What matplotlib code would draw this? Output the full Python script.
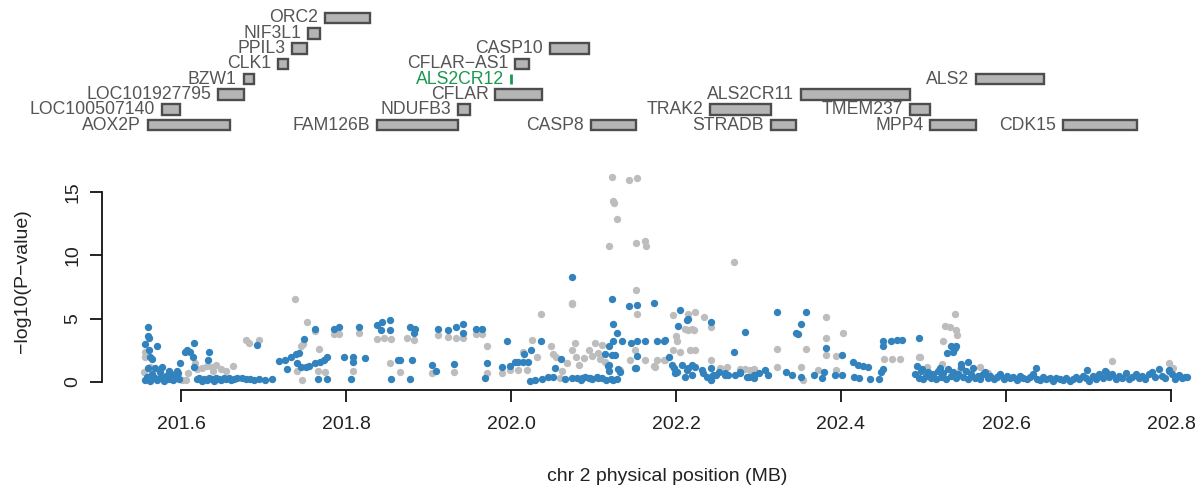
import numpy as np
import matplotlib
matplotlib.use("Agg")
import matplotlib.pyplot as plt
from matplotlib.patches import Rectangle

plt.rcParams['font.family'] = ['Liberation Sans', 'DejaVu Sans']

# ---------------- gene track ----------------
gene_names = ["AOX2P", "LOC100507140", "LOC101927795", "BZW1", "CLK1", "PPIL3", "NIF3L1", "ORC2",
              "FAM126B", "NDUFB3", "CFLAR", "ALS2CR12", "CFLAR\u2212AS1", "CASP10", "CASP8",
              "TRAK2", "STRADB", "ALS2CR11", "TMEM237", "MPP4", "ALS2", "CDK15"]
gene_start = [201.560, 201.577, 201.645, 201.676, 201.718, 201.735, 201.754, 201.775,
              201.838, 201.936, 201.981, 202.000, 202.005, 202.047, 202.097,
              202.241, 202.315, 202.352, 202.484, 202.508, 202.564, 202.669]
gene_end = [201.659, 201.599, 201.676, 201.688, 201.730, 201.753, 201.768, 201.829,
            201.936, 201.950, 202.038, 202.000, 202.022, 202.095, 202.152,
            202.315, 202.345, 202.484, 202.508, 202.564, 202.646, 202.759]
gene_row = [0, 1, 2, 3, 4, 5, 6, 7,
            0, 1, 2, 3, 4, 5, 0,
            1, 0, 2, 1, 0, 3, 0]
highlight_gene = "ALS2CR12"

# ---------------- association results ----------------
blue_snps = [
    (201.560, 4.3), (201.560, 3.6), (201.561, 3.45), (201.556, 3.0), (201.571, 2.8), (201.561, 2.5),
    (201.563, 2.0), (201.565, 1.8), (201.560, 1.1), (201.568, 1.1), (201.577, 1.2), (201.585, 0.9),
    (201.595, 0.9), (201.599, 1.5), (201.605, 2.4), (201.607, 2.5), (201.611, 2.4), (201.616, 3.05),
    (201.615, 2.0), (201.616, 1.2), (201.634, 2.4), (201.633, 1.7), (201.692, 2.9), (201.719, 1.65),
    (201.726, 1.7), (201.729, 1.0), (201.733, 1.95), (201.739, 2.2), (201.743, 2.25), (201.740, 1.5),
    (201.746, 1.2), (201.751, 1.15), (201.755, 1.25), (201.749, 3.4), (201.762, 4.2), (201.763, 1.5),
    (201.769, 1.6), (201.773, 1.7), (201.777, 1.95), (201.766, 0.25), (201.777, 0.2), (201.785, 4.2),
    (201.792, 4.35), (201.798, 2.0), (201.809, 2.0), (201.809, 1.6), (201.806, 0.25), (201.816, 4.3),
    (201.823, 1.9), (201.837, 4.5), (201.844, 4.75), (201.853, 4.9), (201.843, 4.1), (201.853, 4.1),
    (201.855, 0.2), (201.863, 1.7),
    (201.556, 0.15), (201.559, 0.4), (201.562, 0.1), (201.565, 0.6), (201.568, 0.3), (201.571, 0.15),
    (201.574, 0.8), (201.576, 0.4), (201.579, 0.1), (201.582, 0.5), (201.585, 0.25), (201.588, 0.6),
    (201.590, 0.15), (201.593, 0.4), (201.596, 0.7), (201.598, 0.2),
    (201.619, 0.2), (201.622, 0.3), (201.625, 0.1), (201.628, 0.25), (201.631, 0.15), (201.634, 0.3),
    (201.637, 0.2), (201.640, 0.1), (201.643, 0.3), (201.646, 0.2), (201.649, 0.15), (201.652, 0.3),
    (201.655, 0.2), (201.658, 0.35), (201.661, 0.15), (201.664, 0.25), (201.668, 0.3),
    (201.674, 0.3), (201.679, 0.2), (201.684, 0.25), (201.689, 0.15), (201.695, 0.2), (201.702, 0.15),
    (201.710, 0.2),
    (201.866, 1.7), (201.878, 4.35), (201.884, 4.2), (201.882, 3.9), (201.880, 1.7), (201.878, 0.25),
    (201.904, 1.35), (201.909, 0.9), (201.911, 4.15), (201.924, 4.1), (201.931, 1.4), (201.933, 4.35),
    (201.942, 4.55), (201.942, 3.9), (201.958, 4.15), (201.965, 4.2), (201.971, 1.5), (201.968, 0.35),
    (201.989, 1.2), (201.995, 3.2), (201.999, 1.25), (202.005, 1.6), (202.009, 1.6), (202.015, 1.6),
    (202.021, 1.6), (202.016, 2.2), (202.024, 2.5), (202.036, 3.2), (202.023, 0.1), (202.029, 0.15),
    (202.045, 0.4), (202.051, 0.4), (202.053, 1.1), (202.061, 1.8), (202.074, 0.3), (202.080, 0.3),
    (202.090, 0.4), (202.098, 0.2), (202.104, 0.4), (202.110, 0.3), (202.121, 0.2), (202.128, 0.2),
    (202.114, 2.2), (202.119, 2.8), (202.122, 2.1), (202.126, 2.1), (202.124, 4.55), (202.128, 3.85),
    (202.124, 3.25), (202.134, 3.2), (202.118, 1.25), (202.119, 0.9), (202.130, 1.0), (202.122, 6.55),
    (202.143, 6.0), (202.153, 6.1), (202.173, 6.2), (202.145, 3.1), (202.153, 3.2), (202.162, 3.2),
    (202.153, 2.05), (202.152, 1.1), (202.177, 3.25), (202.185, 3.25), (202.192, 1.95),
    (202.038, 0.2), (202.066, 0.2), (202.085, 0.15), (202.094, 0.3), (202.115, 0.15), (202.124, 0.15),
    (202.119, 1.35), (202.132, 0.8), (202.150, 1.1), (202.074, 8.25), (202.086, 0.3), (202.096, 0.3),
    (202.106, 0.3),
    (202.205, 5.7), (202.213, 4.9), (202.214, 5.0), (202.203, 4.4), (202.242, 4.75), (202.284, 3.95),
    (202.270, 2.35), (202.187, 3.3), (202.195, 1.35), (202.201, 0.8), (202.207, 1.35), (202.213, 0.95),
    (202.219, 1.35), (202.223, 1.2), (202.219, 0.55), (202.233, 0.7), (202.243, 1.1), (202.243, 0.15),
    (202.249, 0.55), (202.259, 0.7), (202.263, 0.55), (202.278, 0.7), (202.286, 0.4), (202.294, 0.55),
    (202.197, 1.1), (202.199, 0.7), (202.211, 0.4), (202.215, 1.1), (202.231, 0.95), (202.237, 0.4),
    (202.245, 0.55), (202.252, 0.8), (202.260, 0.55), (202.272, 0.55), (202.278, 0.8), (202.288, 0.4),
    (202.294, 0.3), (202.300, 0.7), (202.308, 0.95), (202.312, 0.55), (202.322, 5.55), (202.333, 0.8),
    (202.341, 0.55), (202.351, 0.4), (202.358, 5.5), (202.352, 4.6), (202.346, 3.85), (202.348, 3.8),
    (202.367, 0.55), (202.377, 0.3), (202.382, 2.65), (202.379, 0.8), (202.393, 0.55), (202.401, 2.1),
    (202.401, 0.55), (202.415, 1.6), (202.416, 0.4), (202.421, 1.35), (202.422, 0.3), (202.427, 1.25),
    (202.433, 1.2), (202.435, 0.2), (202.446, 0.2), (202.449, 0.8), (202.451, 3.2), (202.451, 2.85),
    (202.451, 1.0), (202.461, 3.2), (202.468, 3.3), (202.474, 3.35), (202.495, 3.45), (202.492, 1.25),
    (202.498, 1.0),
    (202.528, 2.25), (202.533, 2.85), (202.538, 2.65), (202.540, 2.8), (202.536, 2.4), (202.554, 1.6),
    (202.546, 1.4), (202.520, 1.1), (202.636, 1.1), (202.698, 0.95), (202.720, 0.9), (202.797, 0.95),
    (202.810, 0.55), (202.819, 0.4),
    (202.490, 0.6), (202.494, 0.3), (202.497, 0.9), (202.500, 0.2), (202.503, 0.5), (202.506, 0.8),
    (202.509, 0.3), (202.512, 0.6), (202.515, 0.2), (202.518, 0.9), (202.521, 0.4), (202.524, 0.7),
    (202.527, 0.2), (202.530, 1.0), (202.533, 0.5), (202.536, 0.8), (202.539, 0.3), (202.542, 0.6),
    (202.545, 1.2), (202.548, 0.4), (202.551, 0.9), (202.554, 0.2), (202.557, 0.6), (202.560, 1.1),
    (202.563, 0.3), (202.566, 0.5), (202.569, 0.2), (202.572, 0.6), (202.575, 0.8), (202.578, 0.3),
    (202.581, 0.5), (202.585, 0.2), (202.589, 0.4), (202.593, 0.6), (202.597, 0.2), (202.601, 0.5),
    (202.605, 0.3), (202.609, 0.4), (202.613, 0.15), (202.617, 0.5), (202.621, 0.3), (202.625, 0.2),
    (202.629, 0.4), (202.633, 0.6), (202.637, 0.25), (202.641, 0.15), (202.645, 0.4), (202.649, 0.2),
    (202.653, 0.3), (202.657, 0.1), (202.661, 0.35), (202.665, 0.2), (202.669, 0.15), (202.673, 0.3),
    (202.677, 0.1), (202.681, 0.25), (202.685, 0.4), (202.689, 0.2), (202.693, 0.5), (202.697, 0.3),
    (202.701, 0.1), (202.705, 0.45), (202.709, 0.2), (202.713, 0.6), (202.717, 0.3), (202.721, 0.8),
    (202.725, 0.4), (202.729, 0.6), (202.733, 0.2), (202.737, 0.5), (202.741, 0.3), (202.745, 0.7),
    (202.749, 0.2), (202.753, 0.4), (202.757, 0.6), (202.761, 0.3), (202.765, 0.5), (202.769, 0.2),
    (202.773, 0.6), (202.777, 0.8), (202.781, 0.4), (202.785, 1.0), (202.789, 0.5), (202.793, 0.3),
    (202.797, 0.9), (202.801, 0.6), (202.805, 0.2), (202.809, 0.5), (202.813, 0.3), (202.817, 0.4),
]

gray_snps = [
    (201.738, 6.55), (201.753, 4.7), (201.762, 4.05), (201.748, 3.0), (201.745, 2.8), (201.767, 2.6),
    (201.679, 3.3), (201.683, 3.1), (201.695, 3.3), (201.556, 2.0), (201.556, 2.4), (201.562, 1.2),
    (201.609, 0.7), (201.617, 1.5), (201.625, 1.1), (201.631, 1.25), (201.637, 1.2), (201.643, 1.35),
    (201.639, 0.9), (201.663, 1.25), (201.741, 0.9), (201.747, 0.15), (201.766, 0.9), (201.775, 0.8),
    (201.785, 3.8), (201.792, 3.8), (201.816, 3.85), (201.809, 0.9), (201.837, 3.4), (201.846, 3.5),
    (201.855, 3.4), (201.853, 1.5), (201.601, 0.15), (201.606, 0.15), (201.555, 0.8), (201.648, 1.0),
    (201.655, 0.9), (201.620, 1.0),
    (201.874, 3.45), (201.882, 3.3), (201.911, 3.7), (201.924, 3.55), (201.933, 3.45), (201.942, 3.5),
    (201.958, 3.8), (201.965, 3.8), (201.866, 0.75), (201.904, 0.7), (201.931, 0.75), (201.971, 2.8),
    (201.971, 0.7), (201.989, 0.7), (201.999, 0.95), (202.009, 0.95), (202.019, 0.95), (202.074, 6.15),
    (202.036, 5.35), (202.025, 3.3), (202.015, 2.4), (202.032, 1.95), (202.048, 2.85), (202.051, 2.2),
    (202.055, 1.95), (202.074, 2.5), (202.078, 3.05), (202.079, 2.0), (202.094, 2.5), (202.102, 3.05),
    (202.110, 2.9), (202.098, 2.05), (202.106, 2.3), (202.108, 1.85), (202.059, 0.35), (202.152, 7.25),
    (202.153, 5.35), (202.132, 0.95), (202.144, 1.75), (202.150, 2.5), (202.162, 1.75), (202.173, 1.25),
    (202.177, 1.7), (202.185, 1.7), (202.062, 0.9), (202.068, 1.5), (202.088, 1.9), (202.082, 1.3),
    (202.114, 1.6),
    (202.122, 16.15), (202.143, 15.95), (202.153, 16.1), (202.124, 14.3), (202.125, 14.1),
    (202.128, 12.85), (202.119, 10.75), (202.152, 11.0), (202.162, 11.1), (202.164, 10.75),
    (202.270, 9.5), (202.074, 6.2),
    (202.196, 5.3), (202.223, 5.55), (202.234, 5.15), (202.242, 4.3), (202.211, 4.2), (202.219, 4.2),
    (202.200, 3.6), (202.201, 3.2), (202.196, 2.5), (202.205, 2.4), (202.217, 2.5), (202.223, 2.5),
    (202.175, 1.2), (202.243, 1.75), (202.253, 1.1), (202.278, 1.0), (202.290, 0.95), (202.214, 5.35),
    (202.214, 4.1), (202.222, 4.1), (202.187, 1.7), (202.382, 5.1), (202.402, 3.9), (202.382, 3.5),
    (202.382, 2.1), (202.394, 2.05), (202.452, 1.8), (202.462, 1.8), (202.472, 1.85), (202.495, 1.95),
    (202.322, 2.6), (202.358, 2.6), (202.262, 1.15), (202.284, 1.0), (202.294, 1.0), (202.322, 1.2),
    (202.352, 1.15), (202.354, 0.15), (202.372, 0.95), (202.394, 0.95), (202.242, 0.15),
    (202.538, 5.35), (202.526, 4.4), (202.532, 4.3), (202.540, 4.1), (202.541, 3.7), (202.524, 3.2),
    (202.496, 2.0), (202.522, 1.4), (202.504, 1.15), (202.568, 1.15), (202.544, 0.95), (202.728, 1.65),
    (202.798, 1.5), (202.803, 1.1), (202.578, 0.7), (202.590, 0.5),
]

x_ticks = [201.6, 201.8, 202.0, 202.2, 202.4, 202.6, 202.8]
y_ticks = [0, 5, 10, 15]
x_title = "chr 2 physical position (MB)"
y_title = "\u2212log10(P\u2212value)"

BLUE = "#3182bd"
GRAY = "#bdbdbd"
GREEN = "#1a9850"
DARK = "#4d4d4d"

W, H = 1204, 490
fig = plt.figure(figsize=(W / 100, H / 100), dpi=100)
fig.patch.set_facecolor("white")

xlim = (201.55, 202.83)
ax_left, ax_w = 139.75 / W, 1056 / W

# main scatter axes
ax = fig.add_axes([ax_left, (H - 388.3) / H, ax_w, (388.3 - 172.9) / H])
ax.set_xlim(*xlim)
ax.set_ylim(-0.5, 16.5)

g = np.array(gray_snps)
b = np.array(blue_snps)
ax.scatter(g[:, 0], g[:, 1], s=28, c=GRAY, linewidths=0, zorder=2)
ax.scatter(b[:, 0], b[:, 1], s=28, c=BLUE, linewidths=0, zorder=3)

for side in ("top", "right"):
    ax.spines[side].set_visible(False)
ax.spines["left"].set_bounds(0, 15)
ax.spines["left"].set_position(("outward", 27.2))
ax.spines["bottom"].set_bounds(x_ticks[0], x_ticks[-1])
ax.spines["bottom"].set_position(("outward", 1.2))
for side in ("left", "bottom"):
    ax.spines[side].set_linewidth(1.3)
    ax.spines[side].set_color("#111111")

ax.set_xticks(x_ticks)
ax.set_xticklabels([f"{v:.1f}" for v in x_ticks])
ax.set_yticks(y_ticks)
ax.set_yticklabels([str(v) for v in y_ticks], rotation=90, va="center")
ax.tick_params(axis="both", length=8.6, width=1.3, color="#111111",
               labelsize=14, labelcolor="#222222")
ax.tick_params(axis="x", pad=10)
ax.tick_params(axis="y", pad=6)

fig.text(667 / W, 1 - 476 / H, x_title, ha="center", va="center", fontsize=14, color="#222222")
fig.text(23 / W, 1 - 281 / H, y_title, ha="center", va="center", rotation=90,
         fontsize=14, color="#222222")

# gene track axes
tax = fig.add_axes([ax_left, (H - 132.65) / H, ax_w, (132.65 - 10.35) / H])
tax.set_xlim(*xlim)
tax.set_ylim(-0.5, 7.5)
tax.axis("off")

for name, s, e, r in zip(gene_names, gene_start, gene_end, gene_row):
    is_hl = name == highlight_gene
    if e - s < 0.002:
        tax.plot([s, s], [r - 0.33, r + 0.33], color=GREEN if is_hl else DARK, lw=2,
                 solid_capstyle="butt")
    else:
        tax.add_patch(Rectangle((s, r - 0.35), e - s, 0.7, facecolor="#b5b5b5",
                                edgecolor=DARK, linewidth=1.7))
    tax.annotate(name, (s, r), xytext=(-5, 0), textcoords="offset points",
                 ha="right", va="center", fontsize=12.7,
                 color=GREEN if is_hl else "#555555")

fig.savefig("out.png", dpi=100, facecolor="white")
